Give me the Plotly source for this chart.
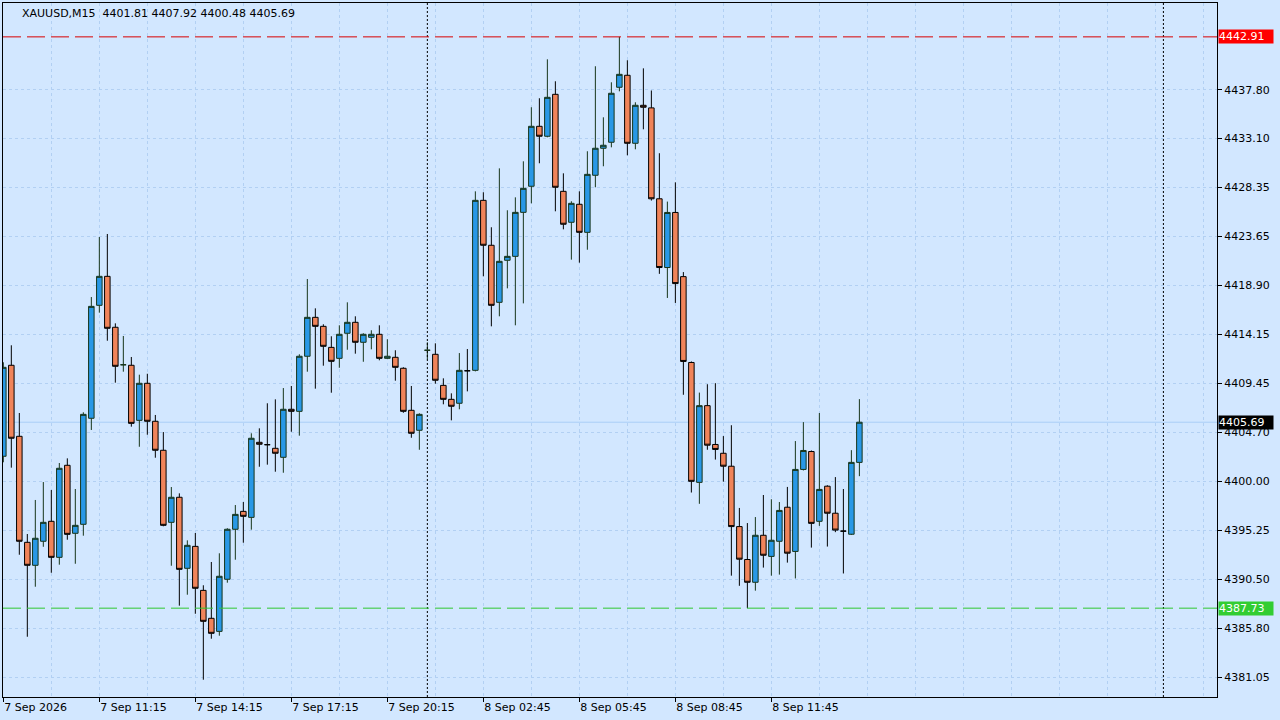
import plotly.graph_objects as go

# XAUUSD M15 bars
opens = [4402.40, 4411.19, 4404.33, 4394.09, 4391.87, 4394.19, 4396.12, 4392.64, 4401.53, 4394.96,
         4395.83, 4406.07, 4416.98, 4419.78, 4414.86, 4411.24, 4411.19, 4405.87, 4409.45, 4405.78,
         4402.98, 4396.02, 4398.44, 4391.58, 4393.70, 4389.45, 4386.75, 4385.49, 4390.52, 4395.35,
         4397.08, 4396.50, 4403.75, 4403.52, 4403.17, 4402.30, 4406.94, 4406.74, 4412.06, 4415.82,
         4414.95, 4412.92, 4411.86, 4414.28, 4415.34, 4413.41, 4413.89, 4414.18, 4411.86, 4411.96,
         4410.90, 4406.84, 4404.91, 4412.64, 4412.25, 4409.25, 4407.90, 4407.52, 4410.66, 4410.70,
         4427.12, 4422.78, 4417.27, 4421.33, 4421.71, 4425.96, 4428.48, 4434.27, 4433.31, 4437.36,
         4427.99, 4425.00, 4426.74, 4424.03, 4429.54, 4432.15, 4432.73, 4438.04, 4439.20, 4432.63,
         4436.30, 4436.05, 4427.27, 4420.63, 4425.95, 4419.75, 4411.46, 4399.88, 4407.29, 4403.54,
         4402.69, 4401.44, 4395.61, 4392.43, 4390.23, 4394.77, 4392.73, 4394.19, 4397.48, 4393.21,
         4401.13, 4402.86, 4396.12, 4399.51, 4396.90, 4395.17, 4394.87, 4401.81]
highs = [4411.48, 4413.12, 4406.58, 4394.89, 4398.18, 4399.91, 4399.14, 4401.75, 4402.20, 4399.24,
         4406.65, 4417.78, 4423.58, 4423.87, 4415.24, 4414.02, 4411.99, 4410.28, 4410.37, 4406.39,
         4404.74, 4399.43, 4398.82, 4394.28, 4394.99, 4389.94, 4392.19, 4393.03, 4395.45, 4397.69,
         4397.98, 4404.62, 4405.10, 4407.52, 4407.90, 4408.99, 4409.19, 4412.25, 4419.52, 4416.69,
         4415.15, 4413.99, 4415.05, 4417.27, 4415.92, 4414.28, 4414.57, 4415.05, 4413.70, 4412.64,
         4411.00, 4409.19, 4406.55, 4413.41, 4413.31, 4409.93, 4408.48, 4412.37, 4412.76, 4427.99,
         4427.90, 4424.52, 4430.21, 4426.16, 4427.41, 4430.89, 4436.11, 4436.98, 4440.74, 4438.62,
         4429.73, 4427.03, 4427.99, 4431.86, 4440.07, 4435.14, 4438.52, 4442.91, 4440.65, 4436.59,
         4439.87, 4437.73, 4431.67, 4427.00, 4428.86, 4420.19, 4411.56, 4408.55, 4409.36, 4409.46,
         4404.35, 4405.40, 4397.41, 4395.95, 4396.53, 4398.66, 4398.25, 4397.98, 4399.44, 4403.87,
         4405.70, 4402.96, 4406.58, 4399.60, 4400.39, 4399.24, 4402.99, 4407.92]
lows = [4401.82, 4401.30, 4392.89, 4384.97, 4389.80, 4393.66, 4391.15, 4391.93, 4394.34, 4392.02,
        4394.73, 4404.94, 4416.27, 4413.56, 4409.51, 4410.57, 4405.26, 4403.32, 4404.48, 4402.26,
        4395.64, 4391.83, 4387.97, 4389.03, 4387.19, 4380.82, 4384.78, 4385.07, 4390.19, 4392.41,
        4394.05, 4395.31, 4401.39, 4401.59, 4400.91, 4400.81, 4404.77, 4404.39, 4410.57, 4408.93,
        4411.15, 4408.54, 4410.95, 4412.69, 4412.31, 4411.53, 4412.73, 4411.67, 4411.80, 4409.70,
        4406.60, 4404.19, 4403.03, 4411.77, 4409.41, 4407.42, 4405.87, 4406.94, 4408.67, 4410.60,
        4419.78, 4414.95, 4415.92, 4418.62, 4415.05, 4417.17, 4426.83, 4430.70, 4433.21, 4426.06,
        4424.32, 4421.39, 4421.10, 4422.35, 4428.38, 4430.41, 4432.24, 4437.65, 4431.47, 4432.05,
        4433.98, 4427.10, 4420.02, 4417.69, 4417.21, 4408.34, 4398.90, 4397.81, 4403.03, 4402.08,
        4399.95, 4390.87, 4389.89, 4387.73, 4389.42, 4391.65, 4390.87, 4390.97, 4392.13, 4390.60,
        4401.03, 4393.58, 4395.68, 4393.68, 4395.07, 4391.08, 4394.80, 4400.48]
closes = [4410.99, 4404.14, 4394.19, 4391.87, 4394.48, 4396.02, 4392.64, 4401.24, 4394.86, 4395.73,
          4406.45, 4416.88, 4419.78, 4414.76, 4411.09, 4411.24, 4405.58, 4409.45, 4405.78, 4402.98,
          4395.73, 4398.44, 4391.48, 4393.80, 4389.65, 4386.46, 4385.30, 4390.81, 4395.35, 4396.79,
          4396.60, 4404.14, 4403.56, 4403.52, 4402.69, 4406.94, 4406.74, 4412.06, 4415.82, 4414.95,
          4413.02, 4411.57, 4414.18, 4415.34, 4413.41, 4414.18, 4414.18, 4411.86, 4412.06, 4410.99,
          4406.74, 4404.62, 4406.45, 4412.64, 4409.74, 4407.90, 4407.23, 4410.70, 4410.66, 4427.12,
          4422.78, 4416.98, 4421.23, 4421.71, 4425.96, 4428.28, 4434.27, 4433.31, 4437.07, 4428.38,
          4424.81, 4426.83, 4424.03, 4429.63, 4432.15, 4432.44, 4437.46, 4439.29, 4432.63, 4436.30,
          4436.11, 4427.27, 4420.63, 4425.95, 4419.08, 4411.56, 4399.98, 4407.29, 4403.47, 4403.06,
          4401.44, 4395.61, 4392.46, 4390.23, 4394.77, 4392.84, 4394.29, 4397.17, 4393.04, 4401.13,
          4402.96, 4395.92, 4399.20, 4396.90, 4395.27, 4395.17, 4401.81, 4405.69]

time_tick_bars = [0, 12, 24, 36, 48, 60, 72, 84, 96]
time_tick_labels = ["7 Sep 2026", "7 Sep 11:15", "7 Sep 14:15", "7 Sep 17:15", "7 Sep 20:15",
                    "8 Sep 02:45", "8 Sep 05:45", "8 Sep 08:45", "8 Sep 11:45"]
grid_bars = list(range(0, 152, 6))
price_ticks = [4437.80, 4433.10, 4428.35, 4423.65, 4418.90, 4414.15, 4409.45, 4404.70,
               4400.00, 4395.25, 4390.50, 4385.80, 4381.05]
day_separators = [53, 145]
day_high = 4442.91
day_low = 4387.73
last_price = closes[-1]

BG = "#D2E7FF"
GRID = "#B2D0F3"
FONT = "DejaVu Sans"

bars = list(range(len(opens)))

fig = go.Figure()
fig.add_trace(go.Candlestick(
    x=bars, open=opens, high=highs, low=lows, close=closes,
    increasing=dict(fillcolor="#2898E6", line=dict(color="#17351A", width=1)),
    decreasing=dict(fillcolor="#F0845A", line=dict(color="#000000", width=1)),
    whiskerwidth=0, hoverinfo="skip", showlegend=False,
))

# day separators
for b in day_separators:
    fig.add_shape(type="line", xref="x", yref="paper", x0=b, x1=b, y0=0, y1=1,
                  line=dict(color="black", width=1, dash="2px,2px"))

# daily high / low and last price lines
fig.add_shape(type="line", xref="paper", yref="y", x0=0, x1=1, y0=day_high, y1=day_high,
              line=dict(color="#D80000", width=1, dash="18px,6px"))
fig.add_shape(type="line", xref="paper", yref="y", x0=0, x1=1, y0=day_low, y1=day_low,
              line=dict(color="#2FC72F", width=1, dash="18px,6px"))
fig.add_shape(type="line", xref="paper", yref="y", x0=0, x1=1, y0=last_price, y1=last_price,
              line=dict(color="#A9CFF7", width=1), layer="below")

for val, col in [(day_high, "#FF0000"), (last_price, "#000000"), (day_low, "#32CD32")]:
    fig.add_annotation(x=1, xref="paper", y=val, yref="y", xanchor="left", yanchor="middle",
                       xshift=1, text="%.2f" % val, showarrow=False, bgcolor=col,
                       font=dict(family=FONT, size=11, color="white"),
                       width=54, height=13, align="left", borderpad=0)

fig.add_annotation(x=0.014, xref="paper", y=1, yref="paper", xanchor="left", yanchor="top",
                   yshift=-2, showarrow=False,
                   text="XAUUSD,M15  %.2f %.2f %.2f %.2f" % (opens[-1], highs[-1], lows[-1], closes[-1]),
                   font=dict(family=FONT, size=11, color="black"))

fig.update_layout(
    width=1280, height=720,
    margin=dict(l=3, r=63, t=3, b=23),
    paper_bgcolor=BG, plot_bgcolor=BG,
    font=dict(family=FONT, size=11, color="black"),
    boxgap=0.25, boxgroupgap=0.08,
    xaxis=dict(
        range=[-0.04, 151.7], rangeslider=dict(visible=False),
        tickvals=time_tick_bars, ticktext=time_tick_labels,
        ticks="outside", ticklen=4, tickcolor="black", ticklabelposition="outside right",
        showgrid=False, zeroline=False,
        showline=True, linecolor="black", linewidth=1, mirror=True,
        minor=dict(tickvals=grid_bars, showgrid=True, gridcolor=GRID, griddash="3px,3px",
                   gridwidth=1, ticks=""),
        fixedrange=True,
    ),
    yaxis=dict(
        range=[4379.15, 4446.18], side="right",
        tickvals=price_ticks, ticktext=["%.2f" % v for v in price_ticks],
        ticks="outside", ticklen=4, tickcolor="black",
        showgrid=True, gridcolor=GRID, griddash="3px,3px", gridwidth=1, zeroline=False,
        showline=True, linecolor="black", linewidth=1, mirror=True,
        fixedrange=True,
    ),
)

# page body has an 8px default margin; drop it so the chart sits flush in the window
fig.write_html("out.html", config={"displayModeBar": False},
               post_script="document.body.style.margin='0';")
